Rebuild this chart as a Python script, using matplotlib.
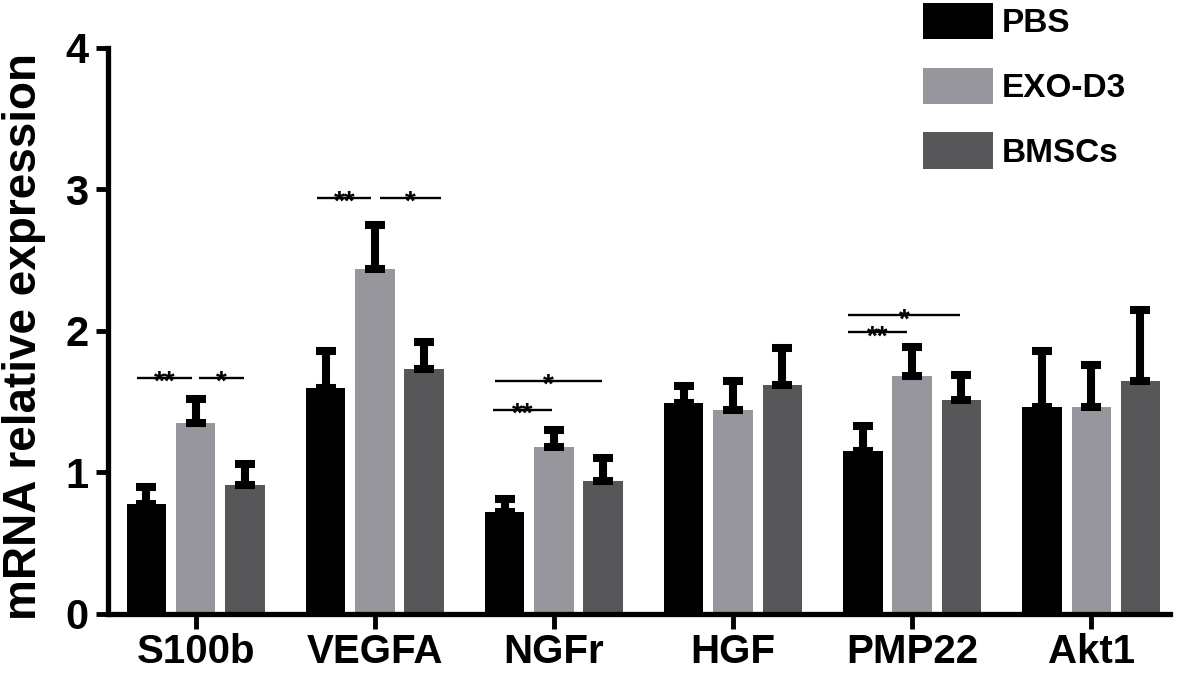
import matplotlib
matplotlib.use("Agg")
import matplotlib.pyplot as plt
import numpy as np

# ---- data ----
genes = ["S100b", "VEGFA", "NGFr", "HGF", "PMP22", "Akt1"]
groups = ["PBS", "EXO-D3", "BMSCs"]
pbs = [0.78, 1.60, 0.72, 1.49, 1.15, 1.46]
pbs_err = [0.12, 0.26, 0.09, 0.12, 0.18, 0.40]
exo = [1.35, 2.44, 1.18, 1.44, 1.68, 1.46]
exo_err = [0.17, 0.31, 0.12, 0.21, 0.21, 0.30]
bmsc = [0.91, 1.73, 0.94, 1.62, 1.51, 1.65]
bmsc_err = [0.15, 0.19, 0.16, 0.26, 0.18, 0.50]
colors = ["#000000", "#96969c", "#575759"]

# significance annotations (gene index, start offset, end offset, height, label)
sig_gene = [0, 0, 1, 1, 2, 2, 4, 4]
sig_x0 = [-0.33, 0.02, -0.32, 0.03, -0.34, -0.33, -0.36, -0.36]
sig_x1 = [-0.02, 0.27, -0.02, 0.37, -0.01, 0.27, -0.03, 0.27]
sig_y = [1.67, 1.67, 2.94, 2.94, 1.44, 1.65, 1.99, 2.11]
sig_lbl = ["**", "*", "**", "*", "**", "*", "**", "*"]

plt.rcParams["font.family"] = ["Liberation Sans", "DejaVu Sans"]
plt.rcParams["font.weight"] = "bold"

fig = plt.figure(figsize=(11.81, 6.75), dpi=100)
ax = fig.add_axes([0.0914, 0.0904, 0.8993, 0.8385])

x = np.arange(len(genes))
width = 0.22
offset = 0.275
series = [(pbs, pbs_err), (exo, exo_err), (bmsc, bmsc_err)]
for i, ((vals, errs), name, col) in enumerate(zip(series, groups, colors)):
    xs = x + (i - 1) * offset
    ax.bar(xs, vals, width=width, color=col, label=name, zorder=2)
    ax.errorbar(xs, vals, yerr=[np.zeros(len(vals)), errs], fmt="none",
                ecolor="black", elinewidth=5.8, capsize=7, capthick=5.8,
                zorder=3)

for g, a, b, yv, lbl in zip(sig_gene, sig_x0, sig_x1, sig_y, sig_lbl):
    ax.plot([g + a, g + b], [yv, yv], color="black", lw=1.7, zorder=4,
            solid_capstyle="butt")
    ax.annotate(lbl, xy=((g + a + g + b) / 2, yv), xytext=(0, -8.5),
                textcoords="offset points", ha="center", va="baseline",
                fontsize=20, fontweight="bold", zorder=5)

ax.set_xlim(-0.49, 5.44)
ax.set_ylim(0, 4)
ax.set_yticks([0, 1, 2, 3, 4])
ax.set_xticks(x)
ax.set_xticklabels(genes, fontsize=29, fontweight="bold")
for lab in ax.get_yticklabels():
    lab.set_fontsize(30)
    lab.set_fontweight("bold")
ax.tick_params(axis="y", length=9, width=3.5, pad=5)
ax.tick_params(axis="x", length=11, width=3.5, pad=3)
for s in ["top", "right"]:
    ax.spines[s].set_visible(False)
for s in ["left", "bottom"]:
    ax.spines[s].set_linewidth(3.8)
ax.set_ylabel("mRNA relative expression", fontsize=33, fontweight="bold")
ax.yaxis.set_label_coords(-0.058, 0.49)

leg = ax.legend(loc="upper left", bbox_to_anchor=(923 / 1181, 1 - 3 / 675),
                bbox_transform=fig.transFigure, frameon=False,
                prop={"size": 24, "weight": "bold"}, borderpad=0,
                borderaxespad=0, handlelength=2.1, handleheight=1.3,
                labelspacing=0.85, handletextpad=0.25)

fig.savefig("out.png", dpi=100)
